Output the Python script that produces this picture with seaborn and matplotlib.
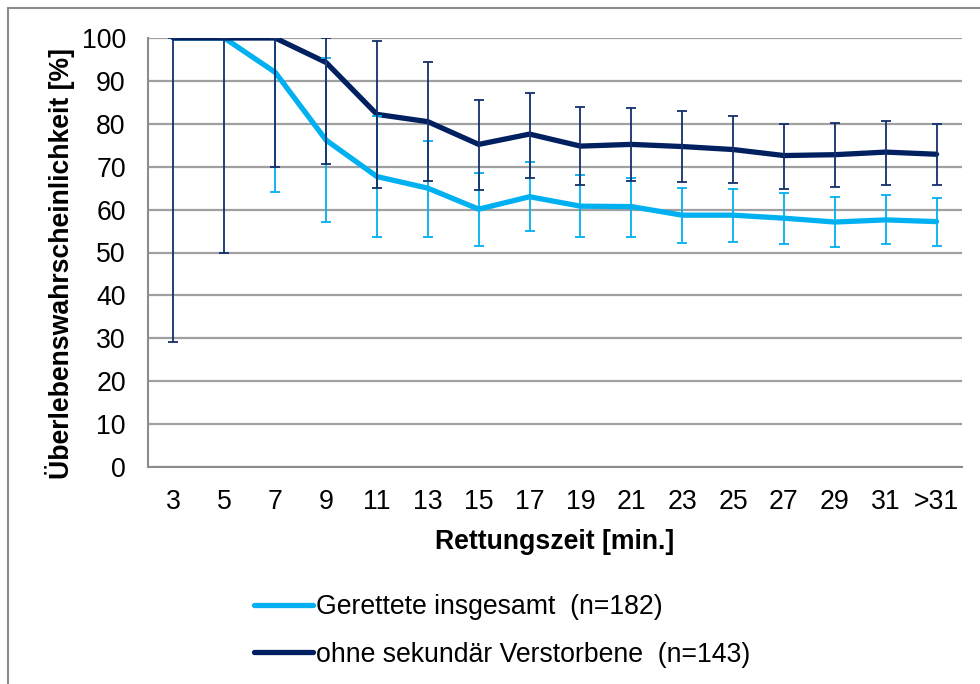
# Überlebenswahrscheinlichkeit nach Rettungszeit

import numpy as np
import matplotlib
matplotlib.use("Agg")
import matplotlib.pyplot as plt
import seaborn as sns
from matplotlib.patches import Rectangle

# Daten
kategorien = ["3", "5", "7", "9", "11", "13", "15", "17", "19", "21",
              "23", "25", "27", "29", "31", ">31"]

gerettet = [100, 100, 92.0, 76.2, 67.7, 65.0, 60.1, 63.0, 60.8, 60.7,
            58.7, 58.7, 58.0, 57.1, 57.6, 57.2]
gerettet_unten = [np.nan, np.nan, 64.0, 57.2, 53.5, 53.5, 51.6, 54.9, 53.5, 53.7,
                  52.1, 52.4, 51.9, 51.2, 51.9, 51.6]
gerettet_oben = [np.nan, np.nan, 100, 95.4, 81.9, 76.1, 68.5, 71.1, 68.1, 67.4,
                 65.0, 64.9, 63.9, 62.9, 63.5, 62.8]

ohne_sek = [100, 100, 100, 94.3, 82.2, 80.5, 75.2, 77.6, 74.8, 75.2,
            74.7, 74.0, 72.6, 72.8, 73.4, 72.9]
ohne_sek_unten = [29.2, 50.0, 69.9, 70.6, 65.1, 66.6, 64.6, 67.4, 65.7, 66.7,
                  66.4, 66.2, 64.9, 65.2, 65.7, 65.7]
ohne_sek_oben = [100, 100, 100, 100, 99.4, 94.5, 85.5, 87.2, 83.9, 83.6,
                 82.9, 81.9, 80.0, 80.3, 80.7, 80.0]

label_gerettet = "Gerettete insgesamt  (n=182)"
label_ohne = "ohne sekundär Verstorbene  (n=143)"

hellblau = "#00B0F0"
dunkelblau = "#002060"
dunkel_fehler = "#14306C"
grau = "#8C8C8C"
fs = 19.2

sns.set_style("white")
plt.rcParams['font.family'] = ['Liberation Sans', 'DejaVu Sans']
plt.rcParams['font.size'] = fs
plt.rcParams['text.color'] = 'black'
plt.rcParams['axes.labelcolor'] = 'black'

fig = plt.figure(figsize=(9.8, 6.84), dpi=100)
ax = fig.add_axes([148 / 980, 1 - 467 / 684, 814 / 980, 429 / 684])

pos = np.arange(len(kategorien))

# Linien
sns.lineplot(x=pos, y=gerettet, color=hellblau, lw=3.8, ax=ax, label=label_gerettet,
             solid_joinstyle="round", solid_capstyle="round")
sns.lineplot(x=pos, y=ohne_sek, color=dunkelblau, lw=3.8, ax=ax, label=label_ohne,
             solid_joinstyle="round", solid_capstyle="round")

# Fehlerbalken
g = np.array(gerettet)
gu = np.array(gerettet_unten)
go = np.array(gerettet_oben)
m = ~np.isnan(gu)
ax.errorbar(pos[m], g[m], yerr=[g[m] - gu[m], go[m] - g[m]], fmt="none",
            ecolor=hellblau, elinewidth=1.3, capsize=3.8, capthick=1.3, zorder=3)

d = np.array(ohne_sek)
ax.errorbar(pos, d, yerr=[d - np.array(ohne_sek_unten), np.array(ohne_sek_oben) - d],
            fmt="none", ecolor=dunkel_fehler, elinewidth=1.3, capsize=3.8,
            capthick=1.3, zorder=4)

# Achsen
ax.set_xlim(-0.5, len(kategorien) - 0.5)
ax.set_ylim(0, 100)
ax.set_yticks(range(0, 101, 10))
ax.set_xticks(pos)
ax.set_xticklabels(kategorien)
ax.set_xticks(np.arange(-0.5, len(kategorien), 1), minor=True)
ax.tick_params(axis="x", which="major", length=0, pad=16, labelsize=fs,
               labelcolor="black")
ax.tick_params(axis="x", which="minor", length=5, width=1.5, color=grau, direction="out")
ax.tick_params(axis="y", length=5, width=1.5, color=grau, direction="out", pad=11,
               labelsize=fs, labelcolor="black")

ax.grid(axis="y", color="#A0A0A0", lw=1.6)
ax.set_axisbelow(True)
for s in ["top", "right"]:
    ax.spines[s].set_visible(False)
for s in ["left", "bottom"]:
    ax.spines[s].set_color(grau)
    ax.spines[s].set_linewidth(1.5)

ax.set_xlabel("Rettungszeit [min.]", fontsize=fs, fontweight="bold", labelpad=10)
ax.set_ylabel("Überlebenswahrscheinlichkeit [%]", fontsize=fs, fontweight="bold")
ax.yaxis.set_label_coords(-0.09, 0.475)

# Legende unten
handles, labels = ax.get_legend_handles_labels()
ax.get_legend().remove()
fig.legend(handles, labels, loc="center", bbox_to_anchor=(502 / 980, 1 - 631 / 684),
           frameon=False, fontsize=fs, handlelength=2.2, handletextpad=0.1,
           labelspacing=0.8)

# Rahmen des Diagrammbereichs
fig.patches.append(Rectangle((8 / 980, -0.1), 1.2, 1 - 8 / 684 + 0.1,
                             transform=fig.transFigure, fill=False,
                             edgecolor=grau, lw=1.5))

fig.savefig("out.png", dpi=100)
